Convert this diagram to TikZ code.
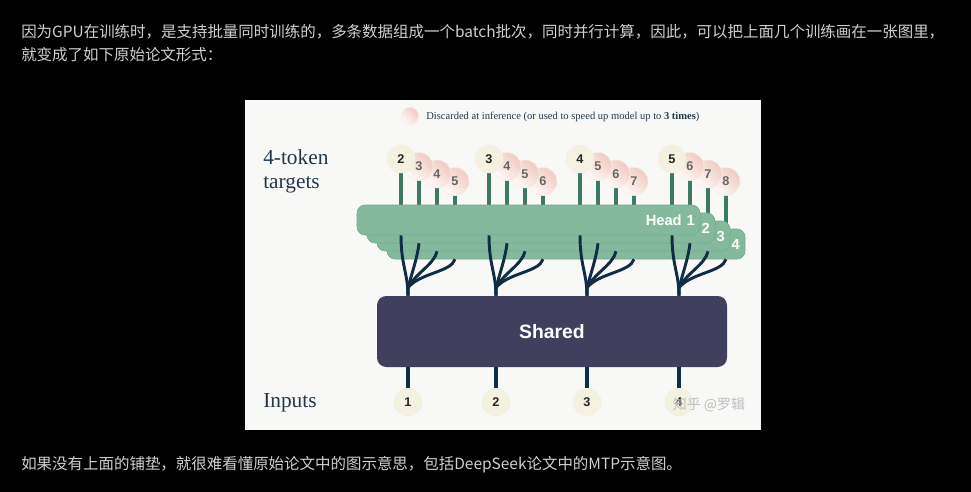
\documentclass[tikz,border=0pt]{standalone}
\usepackage{fontspec}
\setmainfont{Liberation Serif}
\setsansfont{Liberation Sans}
\newfontfamily\cjk{Noto Sans CJK SC}
\usetikzlibrary{calc}
\pgfdeclarelayer{bg}
\pgfdeclarelayer{back}
\pgfsetlayers{bg,back,main}
\definecolor{pagetext}{HTML}{D0D0D0}
\definecolor{figbg}{HTML}{F8F8F7}
\definecolor{headgreen}{HTML}{84B99D}
\definecolor{headedge}{HTML}{72A98C}
\definecolor{stemgreen}{HTML}{3D7A63}
\definecolor{sharednavy}{HTML}{403F5E}
\definecolor{branchnavy}{HTML}{0F2D44}
\definecolor{tokcream}{HTML}{F4F1E0}
\definecolor{tokpink}{HTML}{F0CBC1}
\definecolor{slate}{HTML}{22384A}
\tikzset{
  pagetxt/.style = {inner sep=0pt, text=pagetext, font=\cjk\fontsize{11.6}{14}\selectfont},
  targettok/.style = {circle, minimum size=21pt, inner sep=0pt, fill=tokcream, draw=black!6,
    font=\sffamily\bfseries\fontsize{9.5}{10}\selectfont, text=black!85},
  extratok/.style = {targettok, draw=tokpink!40, top color=tokpink, bottom color=white!90!tokpink,
    shading angle=-45, text=black!60},
  inputtok/.style = {targettok, minimum size=21pt},
  headbox/.style = {rectangle, rounded corners=6pt, fill=headgreen, draw=headedge, line width=0.4pt,
    minimum height=22.5pt, inner xsep=4pt, align=right, text=white,
    font=\sffamily\bfseries\fontsize{11}{12}\selectfont},
  sharedbox/.style = {rectangle, rounded corners=7pt, fill=sharednavy, minimum width=262.5pt,
    minimum height=53.25pt, text=white, font=\sffamily\bfseries\fontsize{14.5}{16}\selectfont},
  greenstem/.style = {stemgreen, line width=2.3pt},
  navystem/.style = {branchnavy, line width=2.4pt},
  navybranch/.style = {branchnavy, line width=2.2pt},
  sidelabel/.style = {inner sep=0pt, text=slate, font=\fontsize{16}{18}\selectfont},
}

\begin{document}
\begin{tikzpicture}[x=0.75pt,y=-0.75pt]
  \pgfmathsetmacro{\tokdx}{18}
  \pgfmathsetmacro{\tokdy}{7.5}
  \pgfmathsetmacro{\headtop}{205}
  \pgfmathsetmacro{\headht}{30}
  \useasboundingbox (0,0) rectangle (971,492);
  % page and figure
  \begin{pgfonlayer}{bg}
    \fill[black] (0,0) rectangle (971,492);
    \fill[figbg] (245,100) rectangle (761,430);
  \end{pgfonlayer}
  \node[pagetxt, anchor=west] (intro-1) at (21,32) {因为GPU在训练时，是支持批量同时训练的，多条数据组成一个batch批次，同时并行计算，因此，可以把上面几个训练画在一张图里，};
  \node[pagetxt, anchor=west] (intro-2) at (21,55) {就变成了如下原始论文形式：};
  \node[pagetxt, anchor=west] (outro) at (21,465) {如果没有上面的铺垫，就很难看懂原始论文中的图示意思，包括DeepSeek论文中的MTP示意图。};
  % legend
  \node[extratok, minimum size=13pt] (legend-dot) at (410,116) {};
  \node[anchor=west, inner sep=0pt, text=slate, font=\fontsize{7.9}{9}\selectfont] (legend-txt) at (426,117)
    {Discarded at inference (or used to speed up model up to \textbf{3 times})};
  \node[sidelabel, anchor=west, align=left] (targets-lbl) at (263,171) {4-token\\targets};
  \node[sidelabel, anchor=west] (inputs-lbl) at (263,403) {Inputs};
  % heads
  \foreach \k in {4,3,2,1} {
    \pgfmathsetmacro{\hl}{357+10*(\k-1)}
    \pgfmathsetmacro{\hr}{700+15*(\k-1)}
    \pgfmathsetmacro{\tw}{(\hr-\hl)*0.75-8}
    \ifnum\k=1 \def\htext{Head 1}\else \edef\htext{\k}\fi
    \node[headbox, text width=\tw pt] (head-\k) at ({(\hl+\hr)/2},{\headtop+8*(\k-1)+\headht/2}) {\htext};
  }
  % targets and inputs
  \foreach \g/\cx in {1/401,2/489,3/580,4/672} {
    \foreach \i in {3,2,1} {
      \pgfmathtruncatemacro{\n}{\g+1+\i}
      \node[extratok] (tok-\g-\i) at ({\cx+\tokdx*\i},{159+\tokdy*\i}) {\n};
    }
    \pgfmathtruncatemacro{\n}{\g+1}
    \node[targettok] (tok-\g-0) at (\cx,159) {\n};
    \node[inputtok] (in-\g) at ({\cx+7},402) {\g};
  }
  % stems down to the heads
  \begin{pgfonlayer}{back}
    \foreach \g in {1,...,4} {
      \foreach \i [evaluate=\i as \k using int(\i+1)] in {0,...,3} {
        \draw[greenstem] (tok-\g-\i.center) -- (tok-\g-\i.center |- head-\k.north);
      }
    }
  \end{pgfonlayer}
  % shared trunk
  \node[sharedbox] (shared) at (552,331.5) {Shared};
  \foreach \g in {1,...,4}
    \draw[navystem] (in-\g |- shared.south) -- (in-\g.north);
  \foreach \g in {1,...,4} {
    \draw[navybranch] (tok-\g-0 |- head-1.south) .. controls +(0,30) and +(0,-22) .. (in-\g |- shared.north);
    \foreach \i [evaluate=\i as \k using int(\i+1)] in {1,2,3} {
      \draw[navybranch] (tok-\g-\i |- head-\k.south) .. controls +({-1.3*\i},13) and +({4*\i},-15)
        .. ($(in-\g |- shared.north)+(0,-8)$) -- (in-\g |- shared.north);
    }
  }
  \node[font=\cjk\fontsize{10.5}{12}\selectfont, text=black!25] (mark) at (709,405) {知乎 @罗辑};
\end{tikzpicture}
\end{document}
